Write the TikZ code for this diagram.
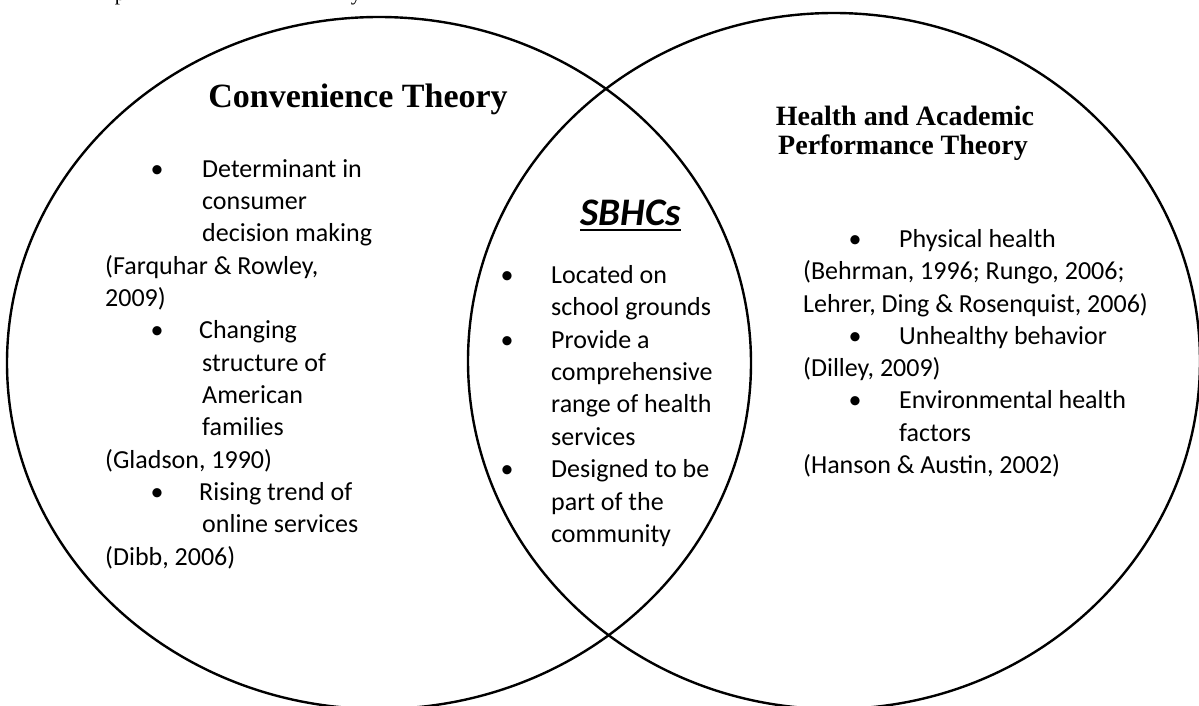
\documentclass[tikz,border=0pt]{standalone}
\usepackage{fontspec}
\setmainfont{Carlito}
\newfontfamily\headfont{Liberation Serif}
\begin{document}
\begin{tikzpicture}[x=1pt,y=-1pt,
  ell/.style={draw=black, line width=2.4pt},
  body/.style={font=\fontsize{26}{32}\selectfont, anchor=base west, inner sep=0pt},
  bul/.style={font=\fontsize{26}{32}\selectfont, anchor=base, inner sep=0pt},
  headA/.style={anchor=base, inner sep=0pt, font=\headfont\bfseries\fontsize{34}{40}\selectfont},
  headB/.style={anchor=base, inner sep=0pt, font=\headfont\bfseries\fontsize{28}{32}\selectfont},
  frag/.style={anchor=base, inner sep=0pt, font=\headfont\fontsize{21}{24}\selectfont},
  center/.style={anchor=base, inner sep=0pt, font=\bfseries\itshape\fontsize{39}{44}\selectfont}]
\useasboundingbox (0,0) rectangle (1199,706);
\fill[white] (0,0) rectangle (1199,706);
% fragments of the line above (cut off)
\node[frag] (fp) at (120,1) {p};
\node[frag] (fy) at (356,1) {y};
% circles
\draw[ell] (379,363) ellipse [x radius=372pt, y radius=346pt];
\draw[ell] (834,361) ellipse [x radius=366pt, y radius=348pt];
% headings
\node[headA] (hl) at (358,108) {Convenience Theory};
\node[headB] (hr1) at (905,125) {Health and Academic};
\node[headB] (hr2) at (903,154) {Performance Theory};
\node[center] (sb) at (630.5,225) {SBHCs};
\draw[line width=2.4pt] ([yshift=-5pt]sb.base west) -- ([yshift=-5pt]sb.base east);
% left column
\node[bul] (lb1) at (157,177) {•};
\node[body] (l1) at (202,177) {Determinant in};
\node[body] (l2) at (202,209) {consumer};
\node[body] (l3) at (202,241.5) {decision making};
\node[body] (l4) at (105,274) {(Farquhar \& Rowley,};
\node[body] (l5) at (105,306) {2009)};
\node[bul] (lb2) at (157,338.5) {•};
\node[body] (l6) at (199,338.5) {Changing};
\node[body] (l7) at (202,371) {structure of};
\node[body] (l8) at (202,403) {American};
\node[body] (l9) at (202,435) {families};
\node[body] (l10) at (105,468) {(Gladson, 1990)};
\node[bul] (lb3) at (157,500) {•};
\node[body] (l11) at (199,500) {Rising trend of};
\node[body] (l12) at (202,532) {online services};
\node[body] (l13) at (105,565) {(Dibb, 2006)};
% middle column
\node[bul] (mb1) at (507,283) {•};
\node[body] (m1) at (551,283) {Located on};
\node[body] (m2) at (551,315) {school grounds};
\node[bul] (mb2) at (507,348) {•};
\node[body] (m3) at (551,348) {Provide a};
\node[body] (m4) at (551,380) {comprehensive};
\node[body] (m5) at (551,412.5) {range of health};
\node[body] (m6) at (551,445) {services};
\node[bul] (mb3) at (507,477.5) {•};
\node[body] (m7) at (551,477.5) {Designed to be};
\node[body] (m8) at (551,510) {part of the};
\node[body] (m9) at (551,542) {community};
% right column
\node[bul] (rb1) at (855,247) {•};
\node[body] (r1) at (899,247) {Physical health};
\node[body] (r2) at (803,279) {(Behrman, 1996; Rungo, 2006;};
\node[body] (r3) at (803,312) {Lehrer, Ding \& Rosenquist, 2006)};
\node[bul] (rb2) at (855,344) {•};
\node[body] (r4) at (899,344) {Unhealthy behavior};
\node[body] (r5) at (803,376) {(Dilley, 2009)};
\node[bul] (rb3) at (855,408) {•};
\node[body] (r6) at (899,408) {Environmental health};
\node[body] (r7) at (899,441) {factors};
\node[body] (r8) at (803,473) {(Hanson \& Austin, 2002)};
\end{tikzpicture}
\end{document}
